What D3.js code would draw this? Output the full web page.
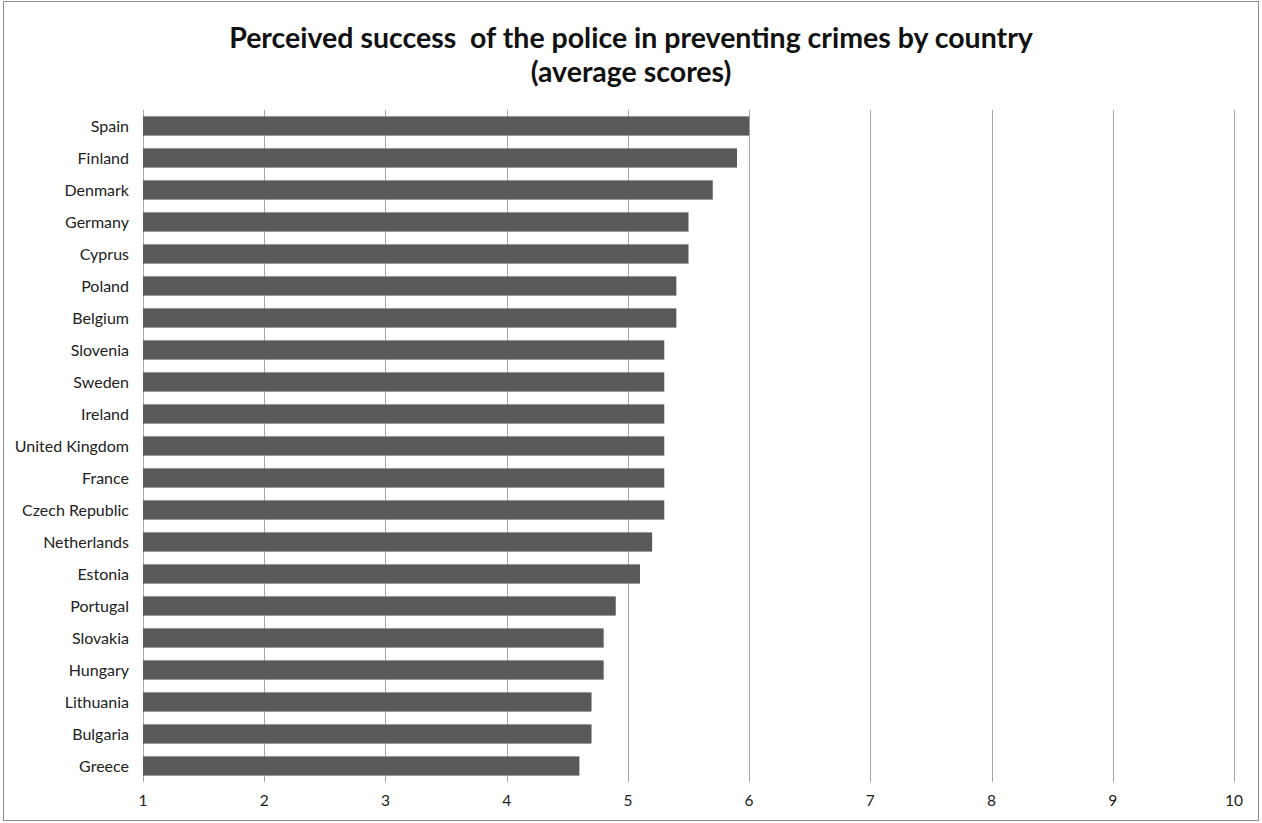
<!DOCTYPE html>
<html><head><meta charset="utf-8">
<script src="https://cdn.jsdelivr.net/npm/d3@7"></script>
<style>body{margin:0;background:#fff}</style>
</head><body>
<svg id="c" width="1262" height="823"></svg>
<script>
const countries = ["Spain","Finland","Denmark","Germany","Cyprus","Poland","Belgium","Slovenia","Sweden","Ireland","United Kingdom","France","Czech Republic","Netherlands","Estonia","Portugal","Slovakia","Hungary","Lithuania","Bulgaria","Greece"];
const scores = [6.0,5.9,5.7,5.5,5.5,5.4,5.4,5.3,5.3,5.3,5.3,5.3,5.3,5.2,5.1,4.9,4.8,4.8,4.7,4.7,4.6];
const tickValues = [1,2,3,4,5,6,7,8,9,10];
const titleLines = ["Perceived success  of the police in preventing crimes by country","(average scores)"];

const svg = d3.select("#c");
const font = "Lato, 'Open Sans', sans-serif";
svg.append("rect").attr("x",3.5).attr("y",1.5).attr("width",1255).attr("height",819)
  .attr("fill","#fff").attr("stroke","#8c8c8c").attr("stroke-width",1);

const x = d3.scaleLinear().domain([1,10]).range([143,1234]);
const y = d3.scaleBand().domain(countries).range([110,782]).paddingInner(0.4).paddingOuter(0.2);

// gridlines
svg.append("g").selectAll("line").data(tickValues).join("line")
  .attr("x1",d=>Math.round(x(d))+0.5).attr("x2",d=>Math.round(x(d))+0.5)
  .attr("y1",110).attr("y2",782)
  .attr("stroke","#a6a6a6").attr("stroke-width",1);

// bars
svg.append("g").selectAll("rect").data(countries).join("rect")
  .attr("x",x(1)).attr("y",d=>y(d))
  .attr("width",(d,i)=>x(scores[i])-x(1)).attr("height",y.bandwidth())
  .attr("fill","#595959");

// y labels
svg.append("g").selectAll("text").data(countries).join("text")
  .attr("x",129).attr("y",d=>y(d)+y.bandwidth()/2).attr("dy","0.35em")
  .attr("text-anchor","end").attr("font-family",font).attr("font-size",16)
  .attr("fill","#222").text(d=>d);

// x labels
svg.append("g").selectAll("text").data(tickValues).join("text")
  .attr("x",d=>x(d)).attr("y",801).attr("dy","0.35em")
  .attr("text-anchor","middle").attr("font-family",font).attr("font-size",15.5)
  .attr("fill","#222").text(d=>d);

// title
svg.append("g").selectAll("text").data(titleLines).join("text")
  .attr("x",631).attr("y",(d,i)=>38+i*34).attr("dy","0.35em")
  .attr("text-anchor","middle").attr("font-family",font).attr("font-weight","bold")
  .attr("font-size",28.5).attr("fill","#111").style("white-space","pre").text(d=>d);
</script>
</body></html>
